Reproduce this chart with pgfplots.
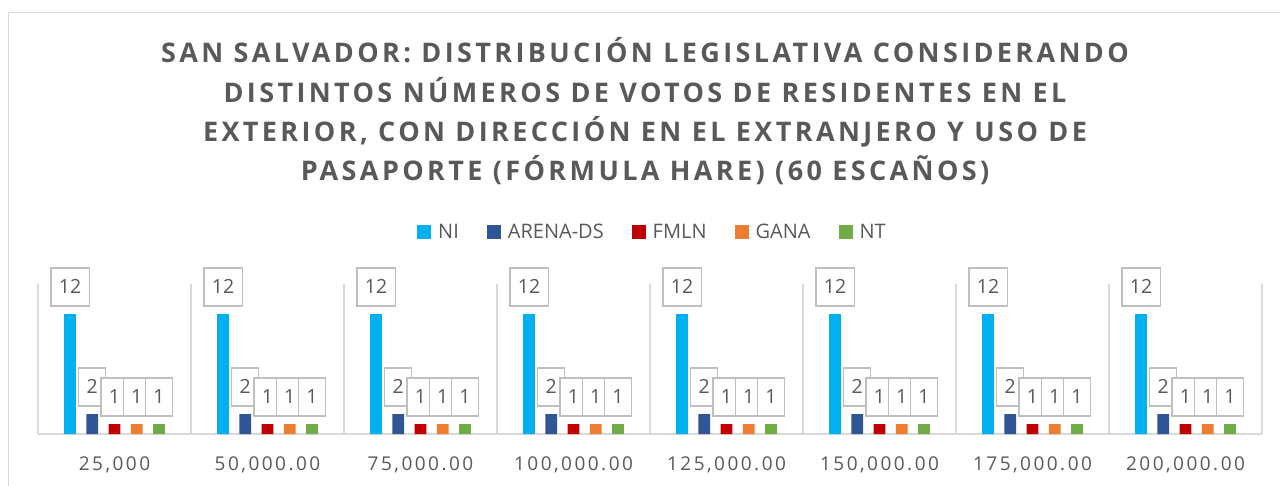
\documentclass[border=0pt]{standalone}
\usepackage{fontspec}
\setmainfont{Open Sans}
\newfontfamily\titlefont[LetterSpace=12.5]{Open Sans}
\newfontfamily\tickfont[LetterSpace=13]{Open Sans}
\usepackage{pgfplots}
\pgfplotsset{compat=1.18}
\definecolor{txt}{HTML}{595959}
\definecolor{grd}{HTML}{D9D9D9}
\definecolor{lbl}{HTML}{BFBFBF}
\definecolor{cNI}{HTML}{00B0F0}
\definecolor{cAR}{HTML}{2F5597}
\definecolor{cFM}{HTML}{C00000}
\definecolor{cGA}{HTML}{ED7D31}
\definecolor{cNT}{HTML}{70AD47}
\begin{document}
\begin{tikzpicture}
\begin{axis}[
  at={(0,0)}, anchor=south west,
  scale only axis, width=1224pt, height=150pt,
  xmin=-0.5, xmax=7.5, ymin=0, ymax=15,
  clip=false,
  /pgf/number format/assume math mode=true,
  axis x line=bottom, axis y line=none,
  x axis line style={-, draw=grd, line width=1.5pt},
  xtick={0,1,2,3,4,5,6,7},
  xticklabels={{25,000},{50,000.00},{75,000.00},{100,000.00},{125,000.00},{150,000.00},{175,000.00},{200,000.00}},
  major tick length=0pt, minor tick length=0pt,
  minor xtick={-0.5,0.5,1.5,2.5,3.5,4.5,5.5,6.5,7.5},
  xminorgrids=true,
  minor grid style={draw=grd, line width=1.5pt},
  ytick=\empty,
  xticklabel style={font=\tickfont\fontsize{19}{22}\selectfont, text=txt, anchor=base, yshift=-36pt},
  ybar, bar width=11.7pt,
  nodes near coords,
  every node near coord/.append style={draw=lbl, line width=1.3pt, fill=white, text=txt,
     font=\fontsize{19.5}{22}\selectfont, anchor=south, yshift=7.5pt,
     inner xsep=8pt, inner ysep=0pt, minimum height=38pt, text height=14pt, text depth=0pt},
  legend columns=5,
  legend style={draw=none, fill=none, at={(0.5020,1.347)}, anchor=center,
     font=\fontsize{20}{22}\selectfont, text=txt,
     /tikz/every odd column/.append style={column sep=5pt},
     /tikz/every even column/.append style={column sep=26pt}},
  legend image code/.code={\fill[#1] (0pt,-7pt) rectangle (14pt,7pt);},
]
\addplot[fill=cNI, draw=none, bar shift=-44.5pt] coordinates {(0,12) (1,12) (2,12) (3,12) (4,12) (5,12) (6,12) (7,12)};
\addplot[fill=cAR, draw=none, bar shift=-22.25pt] coordinates {(0,2) (1,2) (2,2) (3,2) (4,2) (5,2) (6,2) (7,2)};
\addplot[fill=cFM, draw=none, bar shift=0pt] coordinates {(0,1) (1,1) (2,1) (3,1) (4,1) (5,1) (6,1) (7,1)};
\addplot[fill=cGA, draw=none, bar shift=22.25pt] coordinates {(0,1) (1,1) (2,1) (3,1) (4,1) (5,1) (6,1) (7,1)};
\addplot[fill=cNT, draw=none, bar shift=44.5pt] coordinates {(0,1) (1,1) (2,1) (3,1) (4,1) (5,1) (6,1) (7,1)};
\legend{NI, ARENA-DS, FMLN, GANA, NT}
\end{axis}
\begin{scope}[every node/.style={anchor=base, text=txt, inner sep=0pt, font=\titlefont\bfseries\fontsize{27}{30}\selectfont}]
\node at (607pt,371pt) {SAN SALVADOR: DISTRIBUCIÓN LEGISLATIVA CONSIDERANDO};
\node at (607pt,331pt) {DISTINTOS NÚMEROS DE VOTOS DE RESIDENTES EN EL};
\node at (607pt,292pt) {EXTERIOR, CON DIRECCIÓN EN EL EXTRANJERO Y USO DE};
\node at (607pt,253pt) {PASAPORTE (FÓRMULA HARE) (60 ESCAÑOS)};
\end{scope}
\draw[grd, line width=1.5pt] (-29.5pt,-80pt) -- (-29.5pt,421.3pt) -- (1300pt,421.3pt);
\pgfresetboundingbox
\path[use as bounding box] (-38pt,-51pt) rectangle (1242pt,434pt);
\end{tikzpicture}
\end{document}
